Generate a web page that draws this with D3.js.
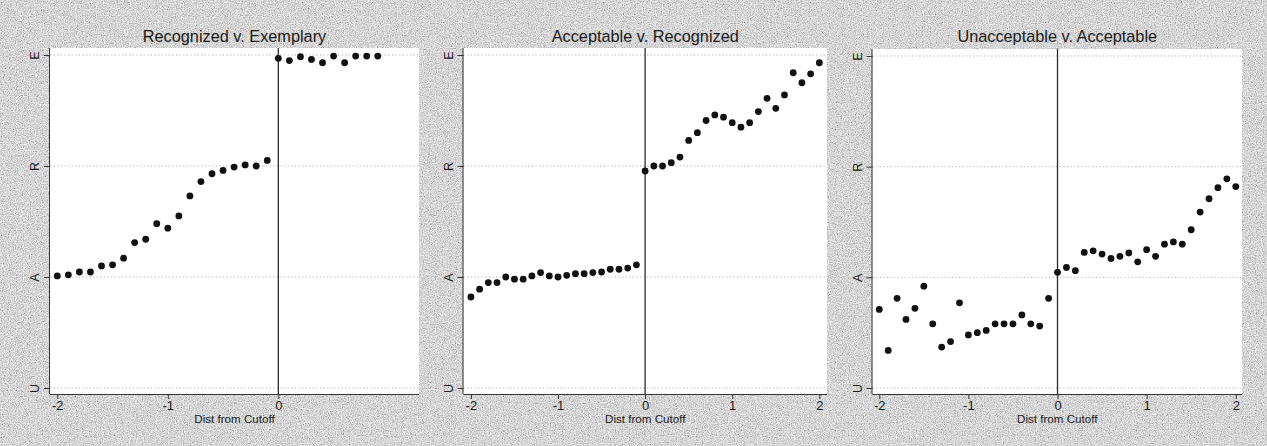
<!DOCTYPE html>
<html>
<head>
<meta charset="utf-8">
<script src="https://cdn.jsdelivr.net/npm/d3@7"></script>
<style>
  html, body { margin: 0; padding: 0; background: #c4c4c4; }
  svg { display: block; }
  text { font-family: "Liberation Sans", Arial, sans-serif; fill: #1a1a1a; }
</style>
</head>
<body>
<svg id="chart" width="1267" height="446"></svg>
<script>
// Rating scale shown on the vertical axis (0 = U ... 3 = E)
const ratingTicks = [0, 1, 2, 3];
const ratingLabels = ["U", "A", "R", "E"];

// Panel titles
const panelTitles = [
  "Recognized v. Exemplary",
  "Acceptable v. Recognized",
  "Unacceptable v. Acceptable"
];

// Distance-from-cutoff bins
const binsBelow = [-2.0, -1.9, -1.8, -1.7, -1.6, -1.5, -1.4, -1.3, -1.2, -1.1,
                   -1.0, -0.9, -0.8, -0.7, -0.6, -0.5, -0.4, -0.3, -0.2, -0.1];
const binsAboveShort = [0.0, 0.1, 0.2, 0.3, 0.4, 0.5, 0.6, 0.7, 0.8, 0.9];
const binsAbove = [0.0, 0.1, 0.2, 0.3, 0.4, 0.5, 0.6, 0.7, 0.8, 0.9, 1.0,
                   1.1, 1.2, 1.3, 1.4, 1.5, 1.6, 1.7, 1.8, 1.9, 2.0];

// Mean rating in each bin, Recognized v. Exemplary
const recExBelow = [1.01, 1.02, 1.045, 1.045, 1.10, 1.11, 1.17, 1.31, 1.34, 1.48,
                    1.44, 1.55, 1.73, 1.86, 1.93, 1.96, 1.99, 2.01, 2.00, 2.05];
const recExAbove = [2.97, 2.95, 2.985, 2.96, 2.93, 2.99, 2.93, 2.99, 2.99, 2.99];

// Mean rating in each bin, Acceptable v. Recognized
const accRecBelow = [0.82, 0.89, 0.95, 0.95, 1.00, 0.98, 0.98, 1.01, 1.04, 1.01,
                     1.00, 1.015, 1.03, 1.03, 1.04, 1.045, 1.07, 1.07, 1.08, 1.11];
const accRecAbove = [1.955, 2.00, 2.00, 2.03, 2.08, 2.23, 2.30, 2.41, 2.46, 2.44, 2.39,
                     2.35, 2.39, 2.49, 2.61, 2.52, 2.64, 2.84, 2.75, 2.83, 2.93];

// Mean rating in each bin, Unacceptable v. Acceptable
const unaccBelow = [0.71, 0.34, 0.81, 0.62, 0.72, 0.92, 0.58, 0.37, 0.42, 0.77,
                    0.48, 0.50, 0.52, 0.58, 0.58, 0.58, 0.66, 0.58, 0.56, 0.81];
const unaccAbove = [1.045, 1.09, 1.06, 1.225, 1.24, 1.21, 1.17, 1.19, 1.22, 1.14, 1.25,
                    1.19, 1.30, 1.32, 1.30, 1.43, 1.59, 1.71, 1.81, 1.89, 1.82];

// Horizontal axis ticks and extents for each panel
const xTicksShort = [-2, -1, 0];
const xTicksFull = [-2, -1, 0, 1, 2];
const xDomainShort = [-2.066, 1.273];
const xDomainFull = [-2.085, 2.088];
const xDomainFull3 = [-2.076, 2.07];
const yDomain = [-0.054, 3.063];

function pairs(xs, ys) { return xs.map((x, i) => ({ x: x, y: ys[i] })); }

const panels = [
  { title: panelTitles[0], domain: xDomainShort, ticks: xTicksShort,
    pts: pairs(binsBelow, recExBelow).concat(pairs(binsAboveShort, recExAbove)),
    box: { left: 50, right: 419, top: 48, bottom: 394 } },
  { title: panelTitles[1], domain: xDomainFull, ticks: xTicksFull,
    pts: pairs(binsBelow, accRecBelow).concat(pairs(binsAbove, accRecAbove)),
    box: { left: 463.5, right: 827, top: 48, bottom: 394 } },
  { title: panelTitles[2], domain: xDomainFull3, ticks: xTicksFull,
    pts: pairs(binsBelow, unaccBelow).concat(pairs(binsAbove, unaccAbove)),
    box: { left: 872.5, right: 1242, top: 49, bottom: 394 } }
];

const svg = d3.select("#chart");

// Grainy grey backdrop
const defs = svg.append("defs");
const grain = defs.append("filter").attr("id", "grain")
  .attr("x", 0).attr("y", 0).attr("width", "100%").attr("height", "100%");
grain.append("feTurbulence").attr("type", "fractalNoise")
  .attr("baseFrequency", 0.85).attr("numOctaves", 2).attr("seed", 7).attr("result", "n");
grain.append("feColorMatrix").attr("type", "matrix")
  .attr("values", "0.33 0.33 0.33 0 0  0.33 0.33 0.33 0 0  0.33 0.33 0.33 0 0  0 0 0 0 1");
const ct = grain.append("feComponentTransfer");
["feFuncR", "feFuncG", "feFuncB"].forEach(f =>
  ct.append(f).attr("type", "linear").attr("slope", 1.8).attr("intercept", -0.22));

svg.append("rect").attr("width", 1267).attr("height", 446).attr("fill", "#c4c4c4");
svg.append("rect").attr("width", 1267).attr("height", 446).attr("filter", "url(#grain)");

panels.forEach(p => {
  const b = p.box;
  const cx = (b.left + b.right) / 2;
  const x = d3.scaleLinear().domain(p.domain).range([b.left, b.right]);
  const y = d3.scaleLinear().domain(yDomain).range([b.bottom, b.top]);
  const g = svg.append("g");

  // plot region
  g.append("rect")
    .attr("x", b.left).attr("y", b.top)
    .attr("width", b.right - b.left).attr("height", b.bottom - b.top)
    .attr("fill", "#ffffff");

  // dotted gridlines at each rating
  g.selectAll("line.grid").data(ratingTicks).enter().append("line")
    .attr("x1", b.left).attr("x2", b.right)
    .attr("y1", d => y(d)).attr("y2", d => y(d))
    .attr("stroke", "#b0b0b0").attr("stroke-width", 1)
    .attr("stroke-dasharray", "1.2,2.4");

  // cutoff line
  g.append("line")
    .attr("x1", x(0)).attr("x2", x(0))
    .attr("y1", b.top).attr("y2", b.bottom)
    .attr("stroke", "#2a2a2a").attr("stroke-width", 1.3);

  // axes
  const xAxis = d3.axisBottom(x).tickValues(p.ticks).tickSize(5).tickPadding(2)
    .tickFormat(d => d < 0 ? "-" + Math.abs(d) : String(d));
  const gx = g.append("g").attr("transform", `translate(0,${b.bottom})`).call(xAxis);
  gx.select(".domain").attr("d", `M${b.left},0.5H${b.right}`).attr("stroke", "#333");
  gx.selectAll(".tick line").attr("stroke", "#333");
  gx.selectAll(".tick text").attr("font-size", 13).attr("fill", "#1a1a1a")
    .attr("font-family", "Liberation Sans, Arial, sans-serif");

  const yAxis = d3.axisLeft(y).tickValues(ratingTicks).tickSize(6).tickPadding(3)
    .tickFormat((d, i) => ratingLabels[i]);
  const gy = g.append("g").attr("transform", `translate(${b.left},0)`).call(yAxis);
  gy.select(".domain").attr("d", `M-0.5,${b.top}V${b.bottom}`).attr("stroke", "#333");
  gy.selectAll(".tick line").attr("stroke", "#333");
  gy.selectAll(".tick text")
    .attr("font-size", 12.5).attr("fill", "#1a1a1a")
    .attr("font-family", "Liberation Sans, Arial, sans-serif")
    .attr("text-anchor", "middle").attr("dy", null)
    .attr("x", null)
    .attr("transform", "translate(-15,0) rotate(-90)")
    .attr("dominant-baseline", "central");

  // points
  g.selectAll("circle").data(p.pts).enter().append("circle")
    .attr("cx", d => x(d.x)).attr("cy", d => y(d.y))
    .attr("r", 3.4).attr("fill", "#111");

  // titles
  g.append("text")
    .attr("x", cx).attr("y", 42)
    .attr("text-anchor", "middle").attr("font-size", 16.3)
    .text(p.title);
  g.append("text")
    .attr("x", cx).attr("y", 423)
    .attr("text-anchor", "middle").attr("font-size", 11.6)
    .text("Dist from Cutoff");
});
</script>
</body>
</html>
